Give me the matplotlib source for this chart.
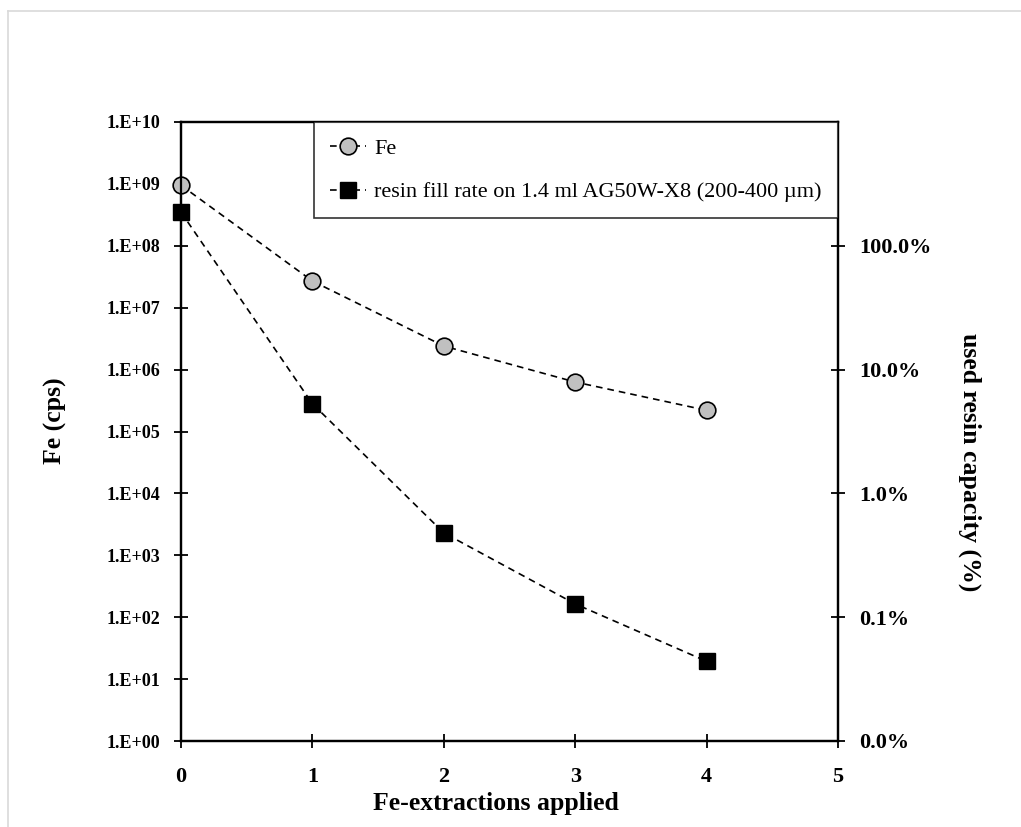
import math
import matplotlib
matplotlib.use("Agg")
import matplotlib.pyplot as plt
from matplotlib.ticker import FixedLocator, FuncFormatter, NullLocator
from matplotlib.lines import Line2D

# ---- data ----
extractions = [0, 1, 2, 3, 4]
fe_cps = [9.5e8, 2.7e7, 2.4e6, 6.3e5, 2.2e5]
resin_fill = [1.87, 0.053, 0.0048, 0.00128, 0.00044]  # fraction of capacity
left_ticks = [1e0, 1e1, 1e2, 1e3, 1e4, 1e5, 1e6, 1e7, 1e8, 1e9, 1e10]
right_ticks = [1e-4, 1e-3, 1e-2, 1e-1, 1e0]
x_ticks = [0, 1, 2, 3, 4, 5]
label_fe = "Fe"
label_resin = "resin fill rate on 1.4 ml AG50W-X8 (200-400 µm)"

plt.rcParams['font.family'] = ['Liberation Serif', 'DejaVu Serif']

fig = plt.figure(figsize=(10.21, 8.27), dpi=100)
ax = fig.add_axes([181/1021, 1-741/827, (838-181)/1021, (741-122)/827])

# light grey chart-area frame
fig.add_artist(Line2D([8/1021, 8/1021], [0, 1-11/827], color='#d9d9d9', lw=1.2, transform=fig.transFigure))
fig.add_artist(Line2D([8/1021, 1], [1-11/827, 1-11/827], color='#d9d9d9', lw=1.2, transform=fig.transFigure))

l1, = ax.plot(extractions, fe_cps, ls='--', color='black', lw=1.2, dashes=(4, 3),
              marker='o', markersize=12, markerfacecolor='#c0c0c0',
              markeredgecolor='black', markeredgewidth=1.2, clip_on=False, zorder=3)
ax.set_yscale('log')
ax.set_ylim(1e0, 1e10)
ax.set_xlim(0, 5)
ax.yaxis.set_major_locator(FixedLocator(left_ticks))
ax.yaxis.set_minor_locator(NullLocator())
ax.yaxis.set_major_formatter(FuncFormatter(lambda v, p: "1.E+%02d" % round(math.log10(v))))
ax.xaxis.set_major_locator(FixedLocator(x_ticks))
ax.xaxis.set_major_formatter(FuncFormatter(lambda v, p: "%d" % v))

ax2 = ax.twinx()
l2, = ax2.plot(extractions, resin_fill, ls='--', color='black', lw=1.2, dashes=(4, 3),
               marker='s', markersize=12, markerfacecolor='black',
               markeredgecolor='black', clip_on=False, zorder=3)
ax2.set_yscale('log')
ax2.set_ylim(1e-4, 1e1)
ax2.yaxis.set_major_locator(FixedLocator(right_ticks))
ax2.yaxis.set_minor_locator(NullLocator())
ax2.yaxis.set_major_formatter(FuncFormatter(lambda v, p: "%.1f%%" % (v * 100)))

for a in (ax, ax2):
    for s in a.spines.values():
        s.set_linewidth(1.6)
        s.set_color('black')
    a.tick_params(axis='both', direction='inout', length=10, width=1.3, labelsize=13)
ax.tick_params(axis='y', pad=10)
ax.tick_params(axis='x', pad=14, labelsize=16)
ax2.tick_params(axis='y', pad=10, labelsize=16)
for t in ax.get_xticklabels() + ax.get_yticklabels() + ax2.get_yticklabels():
    t.set_fontweight('bold')

ax.set_xlabel("Fe-extractions applied", fontsize=18.5, fontweight='bold')
ax.xaxis.set_label_coords(0.479, -0.083)
ax.set_ylabel("Fe (cps)", fontsize=18.5, fontweight='bold')
ax.yaxis.set_label_coords(-0.1735, 0.517)
ax2.set_ylabel("used resin capacity (%)", fontsize=18.5, fontweight='bold', rotation=-90)
ax2.yaxis.set_label_coords(1.2177, 0.4505)

leg = ax2.legend([l1, l2], [label_fe, label_resin], loc='upper right',
                 bbox_to_anchor=(1.0, 1.0), borderaxespad=0, fontsize=16,
                 frameon=True, fancybox=False, edgecolor='black',
                 handlelength=1.6, labelspacing=1.05, borderpad=0.72,
                 handletextpad=0.4)
leg.get_frame().set_linewidth(1.2)
leg.set_zorder(5)

fig.savefig("out.png", dpi=100)
